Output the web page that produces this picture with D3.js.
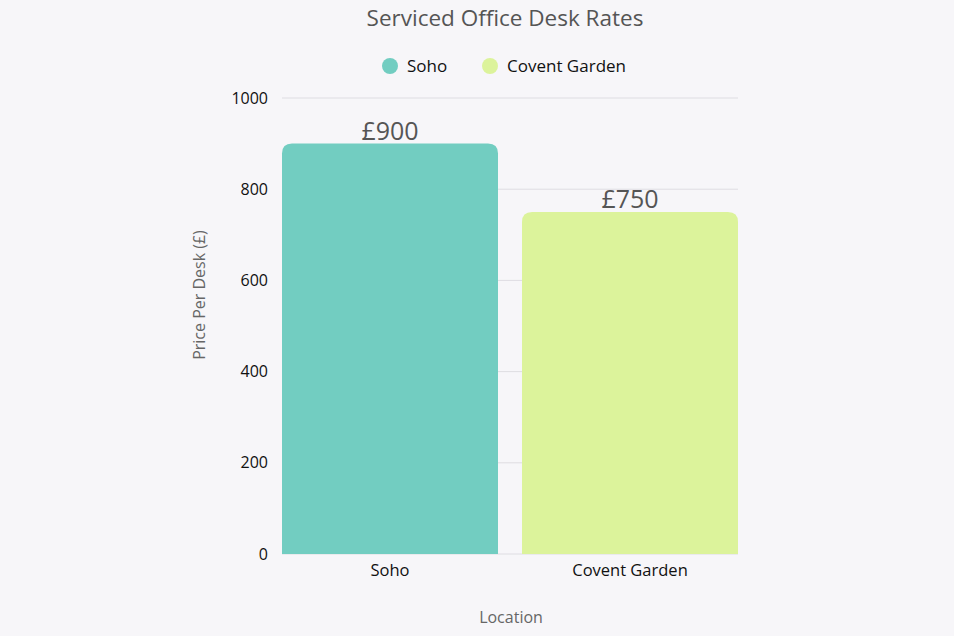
<html>
<head>
  <script src="https://d3js.org/d3.v7.min.js"></script>
  <style>
    body { margin: 0; background: #f7f6f9; }
    text { font-family: "Open Sans", Lato, sans-serif; }
  </style>
</head>
<body>
  <svg id="chart" width="954" height="636"></svg>
  <script>
    const locations = ["Soho", "Covent Garden"];
    const prices = [900, 750];
    const colors = ["#72cdc1", "#dcf39b"];
    const yTicks = [0, 200, 400, 600, 800, 1000];

    const svg = d3.select("#chart");
    const margin = { top: 98, right: 216, bottom: 82, left: 282 };
    const width = 954 - margin.left - margin.right;
    const height = 636 - margin.top - margin.bottom;

    svg.append("rect").attr("width", 954).attr("height", 636).attr("fill", "#f7f6f9");

    const g = svg.append("g")
      .attr("transform", "translate(" + margin.left + "," + margin.top + ")");

    const x = d3.scaleBand().domain(locations).range([0, width]).paddingInner(0.1).paddingOuter(0);
    const y = d3.scaleLinear().domain([0, 1000]).range([height, 0]);

    // grid
    g.selectAll("line.grid").data(yTicks)
      .join("line")
      .attr("class", "grid")
      .attr("x1", 0).attr("x2", width)
      .attr("y1", d => y(d)).attr("y2", d => y(d))
      .attr("stroke", "#dedde2").attr("stroke-width", 1);

    // y tick labels
    g.selectAll("text.ytick").data(yTicks)
      .join("text")
      .attr("class", "ytick")
      .attr("x", -14).attr("y", d => y(d))
      .attr("dy", "0.35em")
      .attr("text-anchor", "end")
      .attr("font-size", 16).attr("fill", "#111")
      .text(d => d);

    // bars with rounded tops
    const r = 10;
    g.selectAll("path.bar").data(prices)
      .join("path")
      .attr("class", "bar")
      .attr("fill", (d, i) => colors[i])
      .attr("d", (d, i) => {
        const x0 = x(locations[i]), w = x.bandwidth();
        const top = y(d), bot = y(0);
        return "M" + x0 + "," + bot +
          "V" + (top + r) +
          "Q" + x0 + "," + top + " " + (x0 + r) + "," + top +
          "H" + (x0 + w - r) +
          "Q" + (x0 + w) + "," + top + " " + (x0 + w) + "," + (top + r) +
          "V" + bot + "Z";
      });

    // value labels
    g.selectAll("text.val").data(prices)
      .join("text")
      .attr("class", "val")
      .attr("x", (d, i) => x(locations[i]) + x.bandwidth() / 2)
      .attr("y", d => y(d) - 4)
      .attr("text-anchor", "middle")
      .attr("font-size", 25).attr("fill", "#555")
      .text(d => "£" + d);

    // x tick labels
    g.selectAll("text.xtick").data(locations)
      .join("text")
      .attr("class", "xtick")
      .attr("x", d => x(d) + x.bandwidth() / 2)
      .attr("y", height + 22)
      .attr("text-anchor", "middle")
      .attr("font-size", 16.5).attr("fill", "#111")
      .text(d => d);

    // axis titles
    svg.append("text")
      .attr("x", 511).attr("y", 623)
      .attr("text-anchor", "middle")
      .attr("font-size", 16).attr("fill", "#666")
      .text("Location");

    svg.append("text")
      .attr("transform", "translate(205,295) rotate(-90)")
      .attr("text-anchor", "middle")
      .attr("font-size", 16).attr("fill", "#666")
      .text("Price Per Desk (£)");

    // title
    svg.append("text")
      .attr("x", 505).attr("y", 26)
      .attr("text-anchor", "middle")
      .attr("font-size", 22.5).attr("fill", "#555")
      .text("Serviced Office Desk Rates");

    // legend
    const legendX = [390, 490];
    const leg = svg.selectAll("g.leg").data(locations)
      .join("g")
      .attr("class", "leg")
      .attr("transform", (d, i) => "translate(" + legendX[i] + ",66)");
    leg.append("circle").attr("r", 8).attr("fill", (d, i) => colors[i]);
    leg.append("text")
      .attr("x", 17).attr("dy", "0.35em")
      .attr("font-size", 17).attr("fill", "#111")
      .text(d => d);
  </script>
</body>
</html>
